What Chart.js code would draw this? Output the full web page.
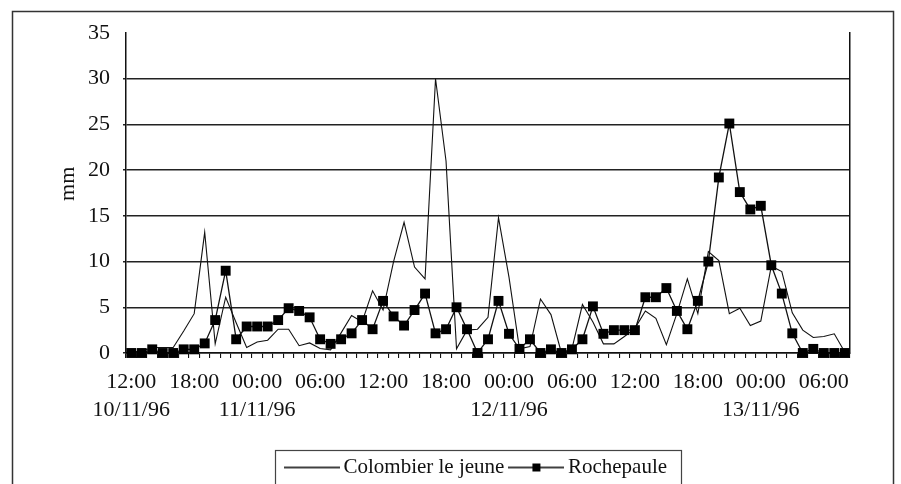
<!DOCTYPE html>
<html>
<head>
<meta charset="utf-8">
<script src="https://cdn.jsdelivr.net/npm/chart.js@4.4.1/dist/chart.umd.min.js"></script>
<style>
  html, body { margin: 0; padding: 0; background: #fff; }
  #wrap { width: 901px; height: 484px; }
</style>
</head>
<body>
<div id="wrap"><canvas id="rain" width="901" height="484"></canvas></div>
<script>
// --- DATA (hourly rainfall, mm) ---
const hours = [
  '12:00','13:00','14:00','15:00','16:00','17:00','18:00','19:00','20:00','21:00','22:00','23:00',
  '00:00','01:00','02:00','03:00','04:00','05:00','06:00','07:00','08:00','09:00','10:00','11:00',
  '12:00','13:00','14:00','15:00','16:00','17:00','18:00','19:00','20:00','21:00','22:00','23:00',
  '00:00','01:00','02:00','03:00','04:00','05:00','06:00','07:00','08:00','09:00','10:00','11:00',
  '12:00','13:00','14:00','15:00','16:00','17:00','18:00','19:00','20:00','21:00','22:00','23:00',
  '00:00','01:00','02:00','03:00','04:00','05:00','06:00','07:00','08:00'
];
const days = ['10/11/96', '11/11/96', '12/11/96', '13/11/96'];

const colombier = [
  0.1, 0.2, 0.6, 0.6, 0.6, 2.4, 4.3, 13.2, 1.0, 6.1, 3.3, 0.6,
  1.2, 1.4, 2.6, 2.6, 0.8, 1.1, 0.5, 0.35, 2.2, 4.1, 3.4, 6.8,
  4.7, 10.0, 14.3, 9.4, 8.1, 30.0, 21.0, 0.45, 2.5, 2.6, 3.9, 14.8,
  8.3, 0.45, 0.7, 5.9, 4.2, 0.0, 0.45, 5.3, 3.4, 1.0, 1.0, 1.8,
  2.7, 4.6, 3.8, 0.9, 4.3, 8.1, 4.3, 11.1, 10.1, 4.3, 4.9, 3.0,
  3.5, 9.5, 8.9, 4.4, 2.5, 1.7, 1.8, 2.1, 0.1
];
const rochepaule = [
  0.0, 0.0, 0.4, 0.0, 0.0, 0.4, 0.4, 1.05, 3.6, 9.0, 1.5, 2.9,
  2.9, 2.9, 3.6, 4.9, 4.6, 3.9, 1.5, 1.0, 1.5, 2.15, 3.6, 2.6,
  5.7, 4.0, 3.0, 4.7, 6.5, 2.15, 2.6, 5.0, 2.6, 0.0, 1.5, 5.7,
  2.1, 0.45, 1.5, 0.0, 0.4, 0.0, 0.4, 1.5, 5.1, 2.1, 2.5, 2.5,
  2.5, 6.1, 6.1, 7.1, 4.6, 2.6, 5.7, 10.0, 19.2, 25.1, 17.6, 15.7,
  16.1, 9.6, 6.5, 2.15, 0.0, 0.45, 0.0, 0.0, 0.0
];

const SERIF = '"Liberation Serif", "Times New Roman", serif';
const INK = '#111';

// libellé de l'axe x : heure toutes les 6 h, date sous minuit (et au départ)
function tickLabel(i) {
  if (i % 6 !== 0) return '';
  let d = 0;
  for (let k = 1; k <= i; k++) if (hours[k] === '00:00') d++;
  if (i === 0 || hours[i] === '00:00') return [hours[i], days[d]];
  return hours[i];
}

// petits échantillons pour la légende
function sample(withSquare) {
  const c = document.createElement('canvas');
  c.width = 56; c.height = 14;
  const g = c.getContext('2d');
  g.strokeStyle = '#000';
  g.lineWidth = 1.3;
  g.beginPath(); g.moveTo(0, 7); g.lineTo(56, 7); g.stroke();
  if (withSquare) { g.fillStyle = '#000'; g.fillRect(24, 3, 8, 8); }
  return c;
}

const framePlugin = {
  id: 'frame',
  afterUpdate(chart) {
    // la légende est un peu décalée vers la gauche dans l'original
    const lg = chart.legend;
    lg.left -= 9;
    lg.right -= 9;
    lg.legendHitBoxes.forEach(h => { h.left -= 9; });
  },
  afterDraw(chart) {
    const ctx = chart.ctx;
    const hb = chart.legend.legendHitBoxes;
    ctx.save();
    // cadre extérieur
    ctx.strokeStyle = '#333';
    ctx.lineWidth = 1.5;
    ctx.strokeRect(12.5, 11.5, 881, 490);
    // cadre de la légende
    const first = hb[0], last = hb[hb.length - 1];
    const midY = first.top + first.height / 2;
    const left = first.left - 16;
    const right = last.left + last.width + 14;
    ctx.strokeStyle = '#444';
    ctx.lineWidth = 1.2;
    ctx.strokeRect(Math.round(left) + 0.5, Math.round(midY - 18) + 0.5, Math.round(right - left), 60);
    // titre de l'axe y
    const y = chart.scales.y;
    ctx.translate(chart.chartArea.left - 58, y.getPixelForValue(18.5));
    ctx.rotate(-Math.PI / 2);
    ctx.font = '22px ' + SERIF;
    ctx.fillStyle = INK;
    ctx.textAlign = 'center';
    ctx.textBaseline = 'middle';
    ctx.fillText('mm', 0, 0);
    ctx.restore();
  }
};

const lineA = sample(false);
const lineB = sample(true);

new Chart(document.getElementById('rain'), {
  type: 'line',
  data: {
    labels: hours,
    datasets: [
      { label: 'Colombier le jeune', data: colombier, borderColor: INK, borderWidth: 1.1,
        pointRadius: 0, tension: 0, clip: false, order: 2 },
      { label: 'Rochepaule', data: rochepaule, borderColor: INK, borderWidth: 1.3,
        pointStyle: 'rect', pointRadius: 7, pointBackgroundColor: '#000', pointBorderWidth: 0,
        tension: 0, clip: false, order: 1 }
    ]
  },
  options: {
    responsive: false,
    animation: false,
    layout: { padding: { top: 33, bottom: -4, left: 0, right: 0 } },
    plugins: {
      tooltip: { enabled: false },
      legend: {
        position: 'bottom',
        fullSize: false,
        labels: {
          font: { family: SERIF, size: 21 },
          color: INK,
          usePointStyle: true,
          pointStyleWidth: 42,
          padding: 11,
          generateLabels: () => [
            { text: 'Colombier le jeune', pointStyle: lineA, datasetIndex: 0, lineWidth: 0, hidden: false, fontColor: INK },
            { text: 'Rochepaule', pointStyle: lineB, datasetIndex: 1, lineWidth: 0, hidden: false, fontColor: INK }
          ]
        }
      }
    },
    scales: {
      x: {
        type: 'category',
        offset: true,
        grid: { drawOnChartArea: false, drawTicks: true, tickLength: 5, color: INK, lineWidth: 1.1, offset: true },
        border: { color: INK, width: 1.5 },
        ticks: {
          autoSkip: false, maxRotation: 0, minRotation: 0, padding: 10, color: INK,
          font: { family: SERIF, size: 22, lineHeight: 1.27 },
          callback: (v, i) => tickLabel(i)
        },
        afterFit: s => { s.height = 93; }
      },
      y: {
        min: 0, max: 35,
        ticks: { stepSize: 5, padding: 13, color: INK, font: { family: SERIF, size: 22 } },
        grid: { color: c => (c.tick && c.tick.value === 35) ? 'rgba(0,0,0,0)' : '#222', lineWidth: 1.5, tickLength: 3 },
        border: { color: INK, width: 1.5 },
        afterFit: s => { s.width = 126; }
      },
      yRight: {
        position: 'right',
        min: 0, max: 35,
        ticks: { display: false },
        grid: { display: false },
        border: { display: true, color: INK, width: 1.5 },
        afterFit: s => { s.width = 51; }
      }
    }
  },
  plugins: [framePlugin]
});
</script>
</body>
</html>
